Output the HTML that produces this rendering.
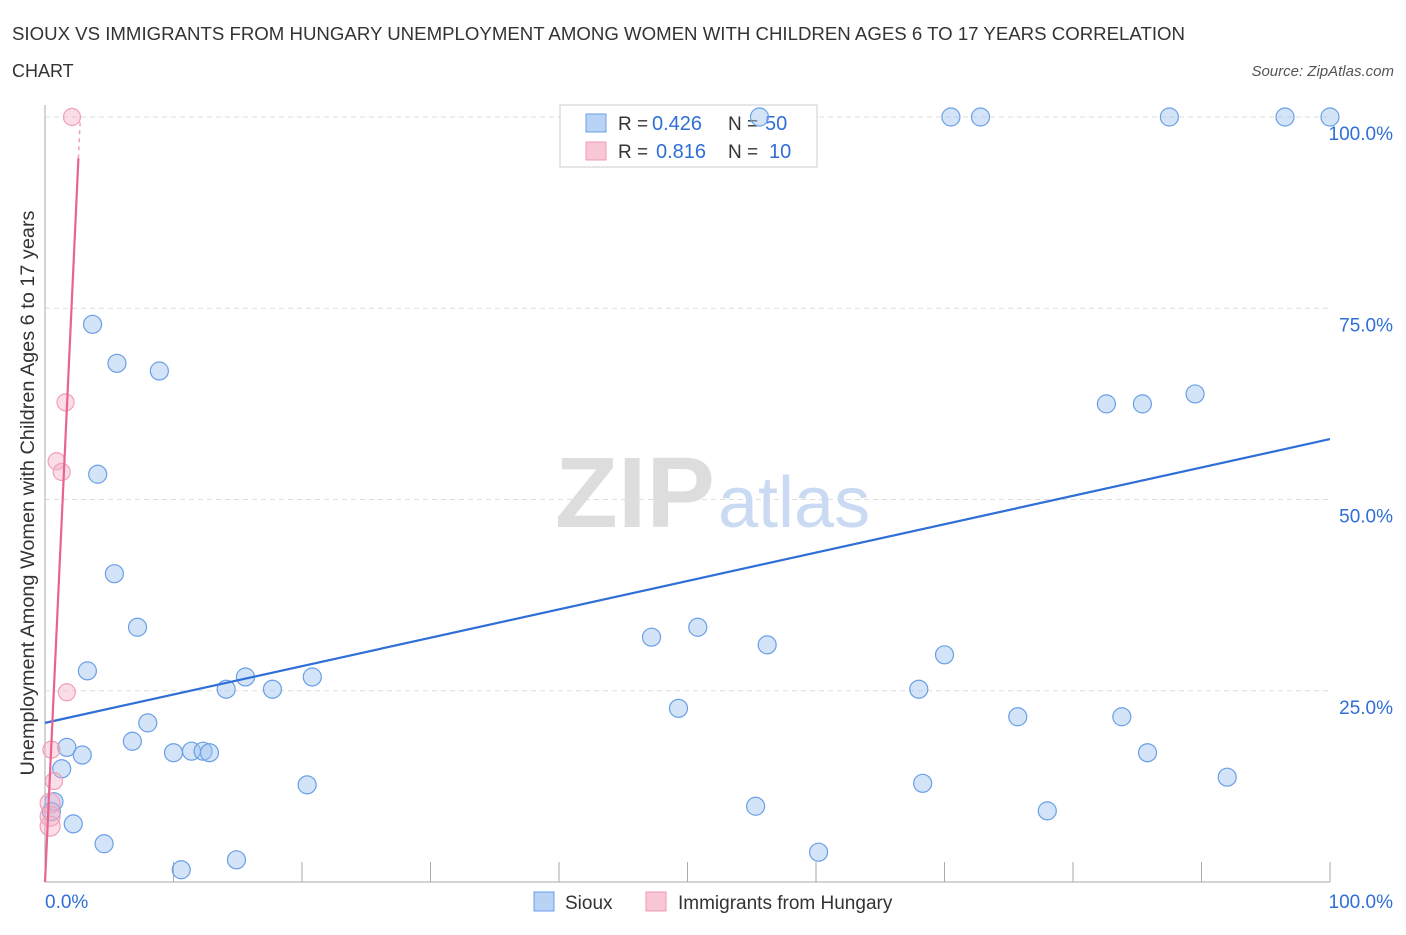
<!DOCTYPE html>
<html><head><meta charset="utf-8"><style>
body{margin:0;background:#fff;font-family:"Liberation Sans",sans-serif;}
svg text{font-family:"Liberation Sans",sans-serif;}
</style></head><body>
<svg id="chart" width="1406" height="930" xmlns="http://www.w3.org/2000/svg">
<text x="12" y="40" font-size="18" fill="#333" textLength="1173" lengthAdjust="spacingAndGlyphs">SIOUX VS IMMIGRANTS FROM HUNGARY UNEMPLOYMENT AMONG WOMEN WITH CHILDREN AGES 6 TO 17 YEARS CORRELATION</text>
<text x="12" y="77" font-size="18" fill="#333">CHART</text>
<text x="1394" y="76" font-size="15" fill="#555" font-style="italic" text-anchor="end">Source: ZipAtlas.com</text>
<text transform="translate(34,493) rotate(-90)" font-size="19" fill="#333" text-anchor="middle" textLength="565" lengthAdjust="spacingAndGlyphs">Unemployment Among Women with Children Ages 6 to 17 years</text>
<g id="grid"></g>
<text x="555" y="527" font-size="100" fill="#ddd" font-family="Liberation Serif" font-weight="bold" textLength="160" lengthAdjust="spacingAndGlyphs">ZIP</text>
<text x="718" y="527" font-size="72" fill="#c9daf2">atlas</text>
<g id="marks"></g>
<g>
<rect x="560" y="105" width="257" height="62" fill="#fff" stroke="#ccc"/>
<rect x="586" y="114" width="20" height="18" fill="#b9d3f5" stroke="#6a9fe6"/>
<text x="618" y="130" font-size="19" fill="#333">R =</text>
<text x="652" y="130" font-size="20" fill="#2f6fd6">0.426</text>
<text x="728" y="130" font-size="19" fill="#333">N =</text>
<text x="765" y="130" font-size="20" fill="#2f6fd6">50</text>
<rect x="586" y="142" width="20" height="18" fill="#f8c6d4" stroke="#ec9ab2"/>
<text x="618" y="158" font-size="19" fill="#333">R =</text>
<text x="656" y="158" font-size="20" fill="#2f6fd6">0.816</text>
<text x="728" y="158" font-size="19" fill="#333">N =</text>
<text x="769" y="158" font-size="20" fill="#2f6fd6">10</text>
</g>
<g id="topmarks"></g>
<g>
<rect x="534" y="892" width="20" height="19" fill="#b9d3f5" stroke="#6a9fe6"/>
<text x="565" y="909" font-size="19" fill="#333">Sioux</text>
<rect x="646" y="892" width="20" height="19" fill="#f8c6d4" stroke="#ec9ab2"/>
<text x="678" y="909" font-size="19" fill="#333">Immigrants from Hungary</text>
</g>
</svg>
<script>
const siouxX=[3.7,5.6,8.9,4.1,5.4,7.2,3.3,14.1,15.6,17.7,20.8,8.0,6.8,10.0,11.4,12.3,12.8,1.7,2.9,1.3,20.4,0.7,0.5,2.2,4.6,14.9,10.6,47.2,50.8,56.2,49.3,55.3,60.2,70.0,68.0,68.3,75.7,78.0,83.8,85.8,92.0,82.6,85.4,89.5,70.5,72.8,87.5,96.5,100,55.6];
const siouxY=[72.9,67.8,66.8,53.3,40.3,33.3,27.6,25.2,26.8,25.2,26.8,20.8,18.4,16.9,17.1,17.1,16.9,17.6,16.6,14.8,12.7,10.5,9.2,7.6,5.0,2.9,1.6,32.0,33.3,31.0,22.7,9.9,3.9,29.7,25.2,12.9,21.6,9.3,21.6,16.9,13.7,62.5,62.5,63.8,100,100,100,100,100,100];
const hungX=[2.1,1.6,0.9,1.3,1.7,0.5,0.7,0.4,0.4,0.4];
const hungY=[100,62.7,55.0,53.6,24.8,17.3,13.2,10.3,8.6,7.3];
const siouxTrend=[[0,20.8],[100,57.9]];
const hungTrend=[[0,0],[2.6,94.6]];
const hungTrendExt=[[2.6,94.6],[2.75,100]];
const yTicks=[25,50,75,100];
const yTickLabels=["25.0%","50.0%","75.0%","100.0%"];
const xTicks=[0,10,20,30,40,50,60,70,80,90,100];
const xS=v=>45+v*12.85, yS=v=>882-v*7.65;
const NS="http://www.w3.org/2000/svg";
function mk(t,a,p){const e=document.createElementNS(NS,t);for(const k in a)e.setAttribute(k,a[k]);p.appendChild(e);return e;}
const grid=document.getElementById('grid'), marks=document.getElementById('marks'), topG=document.getElementById('topmarks');
yTicks.forEach((v,i)=>{
 const l=mk('line',{x1:45,x2:1330,y1:yS(v),y2:yS(v),stroke:'#ddd','stroke-dasharray':'5,4'},grid);
 
 
 const t=mk('text',{x:1393,y:yS(v)+23,'font-size':19,fill:'#2f6fd6','text-anchor':'end'},grid);
 t.textContent=yTickLabels[i];
 
 
});
const ax=mk('line',{x1:45,x2:45,y1:105,y2:882,stroke:'#aaa'},grid);


const bx=mk('line',{x1:45,x2:1330,y1:882,y2:882,stroke:'#aaa'},grid);


xTicks.forEach(v=>{
 const l=mk('line',{x1:xS(v),x2:xS(v),y1:862,y2:882,stroke:'#aaa'},grid);
 
 
});
const x0=mk('text',{x:45,y:908,'font-size':19,fill:'#2f6fd6'},grid);x0.textContent='0.0%';


const x1=mk('text',{x:1393,y:908,'font-size':19,fill:'#2f6fd6','text-anchor':'end'},grid);x1.textContent='100.0%';


siouxX.forEach((v,i)=>{
 const parent=(siouxY[i]>=99&&v>40&&v<65)?topG:marks;
 const c=mk('circle',{cx:xS(v),cy:yS(siouxY[i]),r:9,fill:'rgba(160,196,240,0.45)',stroke:'#6a9fe6','stroke-width':1.2},parent);
 
 
});
hungX.forEach((v,i)=>{
 const c=mk('circle',{cx:xS(v),cy:yS(hungY[i]),r:i>=7?10:8.5,fill:'rgba(245,170,195,0.4)',stroke:'#f0a0b8','stroke-width':1.2},marks);
 
 
});
const tl=mk('line',{x1:xS(siouxTrend[0][0]),y1:yS(siouxTrend[0][1]),x2:xS(siouxTrend[1][0]),y2:yS(siouxTrend[1][1]),stroke:'#2f6fd6','stroke-width':2.2},marks);


const hl=mk('line',{x1:xS(hungTrend[0][0]),y1:yS(hungTrend[0][1]),x2:xS(hungTrend[1][0]),y2:yS(hungTrend[1][1]),stroke:'#e8648f','stroke-width':2.2},marks);


const he=mk('line',{x1:xS(hungTrendExt[0][0]),y1:yS(hungTrendExt[0][1]),x2:xS(hungTrendExt[1][0]),y2:yS(hungTrendExt[1][1]),stroke:'#f0a0b8','stroke-width':1.5,'stroke-dasharray':'4,4'},marks);


</script>
</body></html>
